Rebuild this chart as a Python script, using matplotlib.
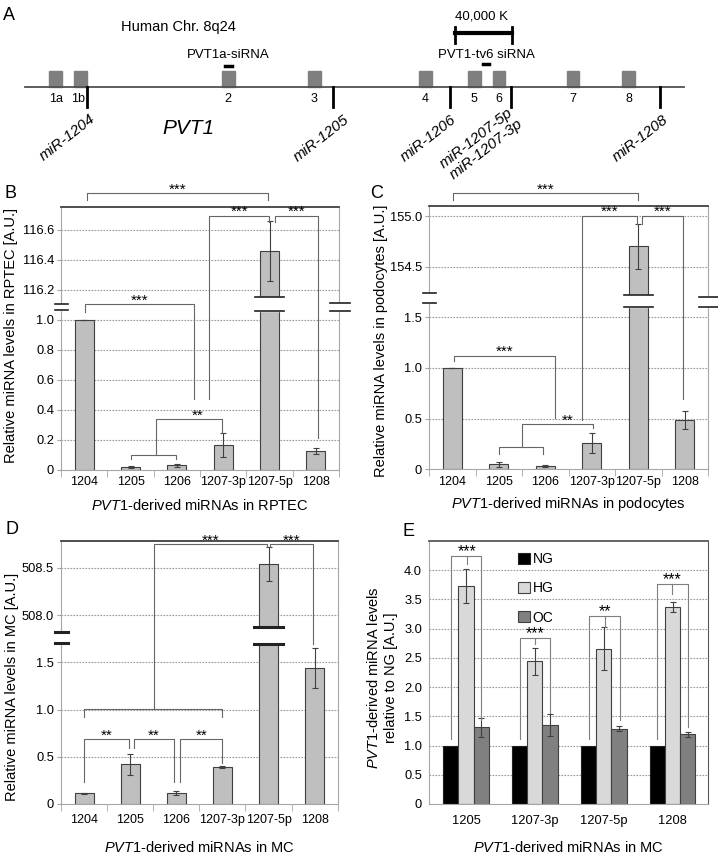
import numpy as np
import matplotlib
matplotlib.use("Agg")
import matplotlib.pyplot as plt
from matplotlib.patches import Rectangle

plt.rcParams['font.family'] = ['Liberation Sans', 'DejaVu Sans']
plt.rcParams['mathtext.fontset'] = 'custom'
plt.rcParams['mathtext.it'] = 'Liberation Sans:italic'
plt.rcParams['mathtext.rm'] = 'Liberation Sans'

# ---- data -------------------------------------------------------------
mirnas = ['1204', '1205', '1206', '1207-3p', '1207-5p', '1208']

# B: RPTEC
rptec_vals = [1.0, 0.018, 0.033, 0.165, 116.46, 0.127]
rptec_errs = [0.003, 0.008, 0.01, 0.08, 0.2, 0.02]
rptec_ticks = [0, 0.2, 0.4, 0.6, 0.8, 1.0, 116.2, 116.4, 116.6]
rptec_ticklabels = ['0', '0.2', '0.4', '0.6', '0.8', '1.0', '116.2', '116.4', '116.6']

# C: podocytes
podo_vals = [1.0, 0.049, 0.033, 0.263, 154.70, 0.487]
podo_errs = [0.002, 0.025, 0.006, 0.1, 0.22, 0.085]
podo_ticks = [0, 0.5, 1.0, 1.5, 154.5, 155.0]
podo_ticklabels = ['0', '0.5', '1.0', '1.5', '154.5', '155.0']

# D: mesangial cells
mc_vals = [0.113, 0.42, 0.113, 0.389, 508.54, 1.444]
mc_errs = [0.005, 0.11, 0.02, 0.01, 0.18, 0.21]
mc_ticks = [0, 0.5, 1.0, 1.5, 508.0, 508.5]
mc_ticklabels = ['0', '0.5', '1.0', '1.5', '508.0', '508.5']

# E: NG / HG / OC in MC
e_groups = ['1205', '1207-3p', '1207-5p', '1208']
ng_vals = [1.0, 1.0, 1.0, 1.0]
hg_vals = [3.73, 2.44, 2.66, 3.37]
hg_errs = [0.29, 0.235, 0.375, 0.08]
oc_vals = [1.31, 1.35, 1.29, 1.19]
oc_errs = [0.17, 0.19, 0.04, 0.04]
e_ticks = [0, 0.5, 1.0, 1.5, 2.0, 2.5, 3.0, 3.5, 4.0]
e_ticklabels = ['0', '0.5', '1.0', '1.5', '2.0', '2.5', '3.0', '3.5', '4.0']

# A: gene map (schematic units along the chromosome line)
exon_names = ['1a', '1b', '2', '3', '4', '5', '6', '7', '8']
exon_pos = [55.7, 80.3, 228.3, 314.3, 425.2, 474.3, 498.8, 573.0, 628.5]
mir_names = ['miR-1204', 'miR-1205', 'miR-1206', 'miR-1207', 'miR-1208']
mir_pos = [86.7, 332.7, 450.3, 511.3, 659.7]

bar_gray = '#bfbfbf'
edge = '#404040'

W, H = 718, 858
fig = plt.figure(figsize=(W / 100, H / 100), dpi=100)


def px_axes(l, t, r, b, **kw):
    return fig.add_axes([l / W, 1 - b / H, (r - l) / W, (b - t) / H], **kw)


def style_frame(ax, top='#404040', right='#a6a6a6'):
    for s in ['left', 'bottom']:
        ax.spines[s].set_color('#a6a6a6')
    ax.spines['right'].set_color(right)
    ax.spines['top'].set_color(top)
    ax.spines['top'].set_linewidth(1.3)


def bracket(ax, x1, x2, y, y1, y2, label='', tx=None, fs=11, col='#666666'):
    ax.plot([x1, x1, x2, x2], [y1, y, y, y2], color=col, lw=0.8, clip_on=False, zorder=5)
    if label:
        ax.annotate(label, ((x1 + x2) / 2 if tx is None else tx, y), xytext=(0, 2.8),
                    textcoords='offset points', ha='center', va='center', fontsize=fs,
                    annotation_clip=False)


def mirna_panel(ax, vals, errs, ticks, ticklabels, cut, off, ylim, gap, lmarks, rmarks,
                thick=False):
    def sh(v):
        return v - off if v > cut else v
    x = np.arange(len(mirnas))
    y = [sh(v) for v in vals]
    ax.bar(x, y, 0.41, color=bar_gray, edgecolor=edge, lw=0.8, zorder=2)
    ax.errorbar(x, y, yerr=errs, fmt='none', ecolor=edge, elinewidth=0.8, capsize=2.5,
                capthick=0.8, zorder=3)
    ax.set_xlim(-0.5, len(mirnas) - 0.5)
    ax.set_ylim(*ylim)
    for t in ticks[1:]:
        ax.axhline(sh(t), color='#9a9a9a', lw=0.8, ls=(0, (1.5, 1.2)), zorder=1)
    ax.set_yticks([sh(t) for t in ticks])
    ax.set_yticklabels(ticklabels)
    ax.set_xticks(x)
    ax.set_xticklabels(mirnas)
    ax.set_xticks(np.arange(-0.5, len(mirnas)), minor=True)
    ax.tick_params(axis='x', which='major', length=0, pad=4.5, labelsize=9)
    ax.tick_params(axis='x', which='minor', length=5, color='#a6a6a6')
    ax.tick_params(axis='y', length=3, color='#a6a6a6', labelsize=9.3, pad=2)
    style_frame(ax)
    # break in the tall bar
    i = int(np.argmax(vals))
    lw = 2.2 if thick else 1.2
    ax.add_patch(Rectangle((i - 0.3, gap[0]), 0.6, gap[1] - gap[0], color='white', zorder=4))
    for g in gap:
        ax.plot([i - 0.31, i + 0.31], [g, g], color='#222222', lw=lw, zorder=4)
    # axis break marks
    tr = ax.get_yaxis_transform()
    if lmarks:
        ax.add_patch(Rectangle((-0.01, lmarks[0]), 0.02, lmarks[1] - lmarks[0], color='white',
                               transform=tr, clip_on=False, zorder=6))
        for m in lmarks:
            ax.plot([-0.023, 0.025], [m, m], color='#222222', lw=lw, transform=tr,
                    clip_on=False, zorder=7)
    if rmarks:
        ax.add_patch(Rectangle((0.99, rmarks[0]), 0.02, rmarks[1] - rmarks[0], color='white',
                               transform=tr, clip_on=False, zorder=6))
        for m in rmarks:
            ax.plot([0.968, 1.04], [m, m], color='#222222', lw=lw, transform=tr,
                    clip_on=False, zorder=7)


# ---- panel B ----------------------------------------------------------
axB = px_axes(61, 207, 339, 470)
mirna_panel(axB, rptec_vals, rptec_errs, rptec_ticks, rptec_ticklabels, 50, 115.0,
            (0, 1.753), (1.06, 1.153), (1.067, 1.105), (1.06, 1.113))
bracket(axB, 0.06, 3.96, 1.845, 1.80, 1.80, '***')
bracket(axB, 2.7, 3.99, 1.693, 0.47, 1.655, '***')
bracket(axB, 4.12, 5.05, 1.693, 1.655, 0.213, '***')
bracket(axB, 0.02, 2.37, 1.105, 1.055, 0.473, '***')
bracket(axB, 1.545, 2.98, 0.338, 0.102, 0.245, '**', tx=2.44)
bracket(axB, 1.02, 1.98, 0.102, 0.071, 0.071)
axB.set_xlabel(r'$\mathit{PVT1}$-derived miRNAs in RPTEC', fontsize=10.5)
axB.xaxis.set_label_coords(0.5, -35 / 263)
axB.xaxis.label.set_va('center')
axB.set_ylabel('Relative miRNA levels in RPTEC [A.U.]', fontsize=10.5)
axB.yaxis.set_label_coords(-0.18, 0.51)
axB.yaxis.label.set_va('center')

# ---- panel C ----------------------------------------------------------
axC = px_axes(429, 205.7, 708, 469.3)
mirna_panel(axC, podo_vals, podo_errs, podo_ticks, podo_ticklabels, 50, 152.5,
            (0, 2.602), (1.60, 1.72), (1.64, 1.74), (1.605, 1.705))
bracket(axC, 0.02, 4.0, 2.725, 2.658, 2.658, '***')
bracket(axC, 2.79, 3.98, 2.503, 0.487, 2.42, '***')
bracket(axC, 4.08, 4.96, 2.503, 2.42, 0.69, '***')
bracket(axC, 0.04, 2.22, 1.121, 1.072, 0.503, '***')
bracket(axC, 1.5, 3.03, 0.444, 0.217, 0.41, '**', tx=2.49)
bracket(axC, 1.01, 1.95, 0.217, 0.151, 0.151)
axC.set_xlabel(r'$\mathit{PVT1}$-derived miRNAs in podocytes', fontsize=10.5)
axC.xaxis.set_label_coords(0.5, -35 / 263)
axC.xaxis.label.set_va('center')
axC.set_ylabel('Relative miRNA levels in podocytes [A.U.]', fontsize=10.5)
axC.yaxis.set_label_coords(-0.172, 0.487)
axC.yaxis.label.set_va('center')

# ---- panel D ----------------------------------------------------------
axD = px_axes(61, 541, 337.7, 804)
mirna_panel(axD, mc_vals, mc_errs, mc_ticks, mc_ticklabels, 50, 506.0,
            (0, 2.786), (1.69, 1.875), (1.705, 1.823), None, thick=True)
axD.tick_params(axis='x', which='major', pad=7.5)
bracket(axD, 1.52, 3.97, 2.751, 1.006, 2.72, '***')
bracket(axD, 4.03, 4.97, 2.751, 2.72, 1.70, '***')
bracket(axD, 0.005, 3.0, 1.006, 0.918, 0.918)
bracket(axD, 0.005, 0.975, 0.685, 0.236, 0.59, '**')
bracket(axD, 1.09, 1.94, 0.685, 0.59, 0.236, '**')
bracket(axD, 2.08, 3.0, 0.685, 0.236, 0.43, '**')
axD.set_xlabel(r'$\mathit{PVT1}$-derived miRNAs in MC', fontsize=10.5)
axD.xaxis.set_label_coords(0.5, -44 / 263)
axD.xaxis.label.set_va('center')
axD.set_ylabel('Relative miRNA levels in MC [A.U.]', fontsize=10.5)
axD.yaxis.set_label_coords(-0.178, 0.446)
axD.yaxis.label.set_va('center')

# ---- panel E ----------------------------------------------------------
axE = px_axes(429, 541, 708, 804)
xg = np.arange(len(e_groups))
bw = 0.22
b1 = axE.bar(xg - bw, ng_vals, bw, color='black', edgecolor='#222222', lw=0.8, zorder=2)
b2 = axE.bar(xg, hg_vals, bw, color='#d9d9d9', edgecolor='#404040', lw=0.8, zorder=2)
b3 = axE.bar(xg + bw, oc_vals, bw, color='#808080', edgecolor='#404040', lw=0.8, zorder=2)
axE.errorbar(xg, hg_vals, yerr=hg_errs, fmt='none', ecolor=edge, elinewidth=0.8,
             capsize=2.5, capthick=0.8, zorder=3)
axE.errorbar(xg + bw, oc_vals, yerr=oc_errs, fmt='none', ecolor=edge, elinewidth=0.8,
             capsize=2.5, capthick=0.8, zorder=3)
for t in e_ticks[1:]:
    axE.axhline(t, color='#9a9a9a', lw=0.8, ls=(0, (1.5, 1.2)), zorder=1)
axE.set_xlim(-0.537, 3.512)
axE.set_ylim(0, 4.5)
axE.set_yticks(e_ticks)
axE.set_yticklabels(e_ticklabels)
axE.set_xticks(xg)
axE.set_xticklabels(e_groups)
axE.tick_params(axis='x', length=0, pad=8, labelsize=9.3)
axE.tick_params(axis='y', length=0, labelsize=9.3, pad=5)
style_frame(axE, top='#595959', right='#595959')
axE.legend([b1, b2, b3], ['NG', 'HG', 'OC'], loc='upper left', bbox_to_anchor=(0.319, 0.958),
           frameon=False, fontsize=10, handlelength=0.85, handleheight=0.85,
           handletextpad=0.2, labelspacing=1.1, borderpad=0, borderaxespad=0)


def bracket3(ax, xl, xm, xr, y, yl, ym, yr, label):
    ax.plot([xl, xl, xr, xr], [yl, y, y, yr], color='#7f7f7f', lw=0.8, clip_on=False, zorder=5)
    ax.plot([xm, xm], [y, ym], color='#7f7f7f', lw=0.8, clip_on=False, zorder=5)
    ax.annotate(label, (xm, y), xytext=(0, 3.0), textcoords='offset points', ha='center',
                va='center', fontsize=11.5, annotation_clip=False)


bracket3(axE, -0.22, 0.02, 0.22, 4.25, 1.12, 4.11, 1.43, '***')
bracket3(axE, 0.788, 0.997, 1.215, 2.84, 1.12, 2.74, 1.55, '***')
bracket3(axE, 1.785, 2.017, 2.23, 3.22, 1.12, 3.03, 1.43, '**')
bracket3(axE, 2.772, 2.99, 3.222, 3.77, 1.12, 3.6, 1.32, '***')
axE.set_xlabel(r'$\mathit{PVT1}$-derived miRNAs in MC', fontsize=10.5)
axE.xaxis.set_label_coords(0.5, -44 / 263)
axE.xaxis.label.set_va('center')
axE.set_ylabel('$\\mathit{PVT1}$-derived miRNA levels\nrelative to NG [A.U.]', fontsize=10.5,
               linespacing=1.25)
axE.yaxis.set_label_coords(-0.168, 0.479)
axE.yaxis.label.set_va('center')

# ---- panel A: gene map ------------------------------------------------
axA = px_axes(0, 0, 718, 165, zorder=-1)
axA.set_xlim(0, 718)
axA.set_ylim(165, 0)
axA.axis('off')
axA.plot([25, 684], [87.3, 87.3], color='#505050', lw=1.3)
for name, c in zip(exon_names, exon_pos):
    axA.add_patch(Rectangle((c - 6.3, 71), 12.6, 16.3, color='#7f7f7f'))
    axA.text(c - (2.5 if name == '1b' else 0), 99.5, name, ha='center', va='center',
             fontsize=9)
for xm in mir_pos:
    axA.plot([xm, xm], [87.3, 106.5], color='black', lw=2)
mir_labels = [('miR-1204', 89, 112), ('miR-1205', 343, 113), ('miR-1206', 450, 113),
              ('miR-1207-5p', 507, 106), ('miR-1207-3p', 517, 117), ('miR-1208', 662, 113)]
for txt, lx, ly in mir_labels:
    axA.text(lx, ly, txt, rotation=38, rotation_mode='anchor', ha='right', va='top',
             fontsize=11, style='italic')
axA.text(188, 128, 'PVT1', fontsize=15, style='italic', ha='center', va='center')
axA.text(178, 27, 'Human Chr. 8q24', fontsize=10.5, ha='center', va='center')
axA.text(228, 55, 'PVT1a-siRNA', fontsize=9.5, ha='center', va='center')
axA.plot([225, 231.5], [65.7, 65.7], color='black', lw=2.5)
axA.text(486, 55, 'PVT1-tv6 siRNA', fontsize=9.5, ha='center', va='center')
axA.plot([482.5, 489], [64.3, 64.3], color='black', lw=2.5)
axA.text(481.3, 16.7, '40,000 K', fontsize=9.5, ha='center', va='center')
axA.plot([454.7, 511.7], [33.3, 33.3], color='black', lw=3)
for xe in [454.7, 511.7]:
    axA.plot([xe, xe], [26.7, 43.3], color='black', lw=2)

# panel letters
for letter, lx, ly in [('A', 9, 15), ('B', 10, 193), ('C', 377, 193), ('D', 12, 530),
                       ('E', 409, 532)]:
    fig.text(lx / W, 1 - ly / H, letter, fontsize=13, ha='center', va='center')

fig.savefig('out.png', dpi=100)
